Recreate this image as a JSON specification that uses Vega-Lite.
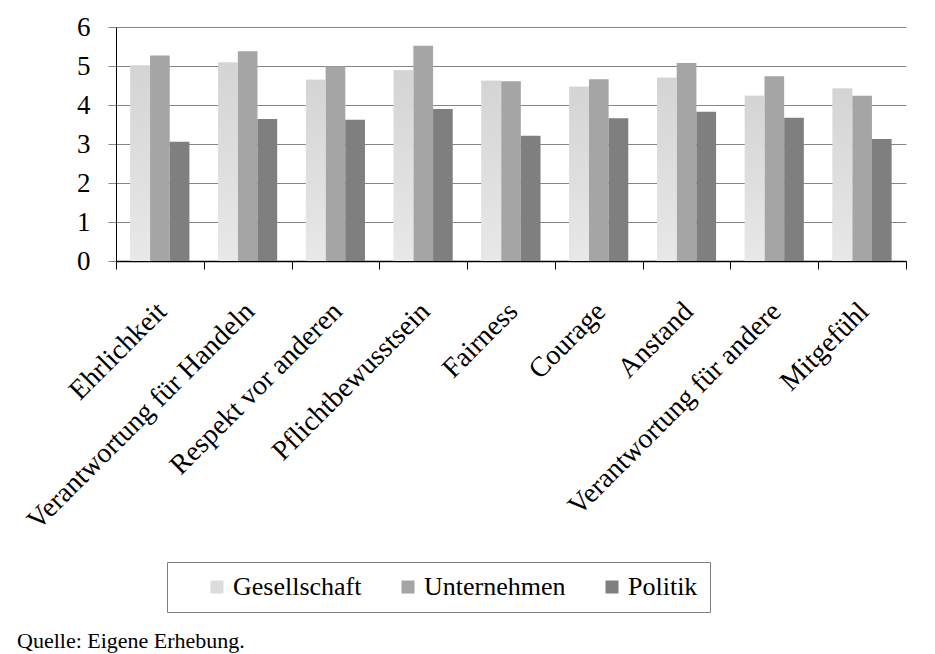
{
  "$schema": "https://vega.github.io/schema/vega-lite/v6.json",
  "width": 790,
  "height": 234,
  "autosize": {"type": "none"},
  "padding": {"left": 116, "top": 27, "right": 29, "bottom": 393},
  "background": "white",
  "config": {
    "font": "Liberation Serif",
    "view": {"stroke": null},
    "style": {"guide-label": {"font": "Liberation Serif"}, "guide-title": {"font": "Liberation Serif"}, "group-title": {"font": "Liberation Serif"}}
  },
  "title": {
    "text": "Quelle: Eigene Erhebung.",
    "orient": "bottom",
    "anchor": "start",
    "frame": "group",
    "fontSize": 22,
    "fontWeight": "normal",
    "font": "Liberation Serif",
    "color": "black",
    "dx": -99,
    "offset": 18
  },
  "data": {
    "values": [
      {"Kategorie": "Ehrlichkeit", "Bereich": "Gesellschaft", "Wert": 5.01},
      {"Kategorie": "Ehrlichkeit", "Bereich": "Unternehmen", "Wert": 5.27},
      {"Kategorie": "Ehrlichkeit", "Bereich": "Politik", "Wert": 3.06},
      {"Kategorie": "Verantwortung für Handeln", "Bereich": "Gesellschaft", "Wert": 5.09},
      {"Kategorie": "Verantwortung für Handeln", "Bereich": "Unternehmen", "Wert": 5.38},
      {"Kategorie": "Verantwortung für Handeln", "Bereich": "Politik", "Wert": 3.64},
      {"Kategorie": "Respekt vor anderen", "Bereich": "Gesellschaft", "Wert": 4.65},
      {"Kategorie": "Respekt vor anderen", "Bereich": "Unternehmen", "Wert": 4.99},
      {"Kategorie": "Respekt vor anderen", "Bereich": "Politik", "Wert": 3.62},
      {"Kategorie": "Pflichtbewusstsein", "Bereich": "Gesellschaft", "Wert": 4.89},
      {"Kategorie": "Pflichtbewusstsein", "Bereich": "Unternehmen", "Wert": 5.52},
      {"Kategorie": "Pflichtbewusstsein", "Bereich": "Politik", "Wert": 3.9},
      {"Kategorie": "Fairness", "Bereich": "Gesellschaft", "Wert": 4.62},
      {"Kategorie": "Fairness", "Bereich": "Unternehmen", "Wert": 4.61},
      {"Kategorie": "Fairness", "Bereich": "Politik", "Wert": 3.21},
      {"Kategorie": "Courage", "Bereich": "Gesellschaft", "Wert": 4.47},
      {"Kategorie": "Courage", "Bereich": "Unternehmen", "Wert": 4.66},
      {"Kategorie": "Courage", "Bereich": "Politik", "Wert": 3.66},
      {"Kategorie": "Anstand", "Bereich": "Gesellschaft", "Wert": 4.7},
      {"Kategorie": "Anstand", "Bereich": "Unternehmen", "Wert": 5.08},
      {"Kategorie": "Anstand", "Bereich": "Politik", "Wert": 3.83},
      {"Kategorie": "Verantwortung für andere", "Bereich": "Gesellschaft", "Wert": 4.24},
      {"Kategorie": "Verantwortung für andere", "Bereich": "Unternehmen", "Wert": 4.74},
      {"Kategorie": "Verantwortung für andere", "Bereich": "Politik", "Wert": 3.67},
      {"Kategorie": "Mitgefühl", "Bereich": "Gesellschaft", "Wert": 4.42},
      {"Kategorie": "Mitgefühl", "Bereich": "Unternehmen", "Wert": 4.24},
      {"Kategorie": "Mitgefühl", "Bereich": "Politik", "Wert": 3.13}
    ]
  },
  "encoding": {
    "x": {
      "field": "Kategorie",
      "type": "nominal",
      "sort": ["Ehrlichkeit", "Verantwortung für Handeln", "Respekt vor anderen", "Pflichtbewusstsein", "Fairness", "Courage", "Anstand", "Verantwortung für andere", "Mitgefühl"],
      "scale": {"paddingInner": 0, "paddingOuter": 0},
      "axis": {
        "title": null,
        "labelAngle": -45,
        "labelAlign": "right",
        "labelBaseline": "middle",
        "labelFont": "Liberation Serif",
        "labelFontSize": 28,
        "labelColor": "black",
        "labelPadding": 38,
        "labelOffset": 2,
        "labelLimit": 500,
        "tickBand": "extent",
        "tickSize": 8,
        "tickColor": "black",
        "domainColor": "black",
        "domainWidth": 1.5
      }
    },
    "xOffset": {
      "field": "Bereich",
      "type": "nominal",
      "sort": ["Gesellschaft", "Unternehmen", "Politik"],
      "scale": {"domain": ["Gesellschaft", "Unternehmen", "Politik"], "paddingInner": 0, "paddingOuter": 0.73}
    },
    "y": {
      "field": "Wert",
      "type": "quantitative",
      "scale": {"domain": [0, 6], "nice": false},
      "axis": {
        "title": null,
        "values": [0, 1, 2, 3, 4, 5, 6],
        "grid": true,
        "gridColor": "#868686",
        "tickColor": "#868686",
        "tickSize": 8,
        "domainColor": "black",
        "labelFont": "Liberation Serif",
        "labelFontSize": 27,
        "labelPadding": 18,
        "labelColor": "black"
      }
    }
  },
  "layer": [
    {
      "mark": {"type": "bar"},
      "encoding": {
        "color": {
          "field": "Bereich",
          "type": "nominal",
          "sort": ["Gesellschaft", "Unternehmen", "Politik"],
          "scale": {"domain": ["Gesellschaft", "Unternehmen", "Politik"], "range": ["#dcdcdc", "#a5a5a5", "#7f7f7f"]},
          "legend": {
            "orient": "none",
            "legendX": 51,
            "legendY": 535,
            "direction": "horizontal",
            "title": null,
            "strokeColor": "#7f7f7f",
            "fillColor": "white",
            "padding": 12,
            "symbolType": "square",
            "symbolSize": 169,
            "symbolStrokeWidth": 0,
            "symbolOffset": 25,
            "labelOffset": 3,
            "labelFont": "Liberation Serif",
            "labelFontSize": 26,
            "labelColor": "black",
            "labelExpr": "datum.label == 'Politik' ? datum.label + '\u00a0\u00a0\u00a0' : datum.label",
            "columnPadding": 8
          }
        }
      }
    },
    {
      "transform": [{"filter": "datum.Bereich == 'Gesellschaft'"}],
      "mark": {
        "type": "bar",
        "fill": {
          "gradient": "linear",
          "x1": 0, "y1": 0, "x2": 0, "y2": 1,
          "stops": [{"offset": 0, "color": "#d4d4d4"}, {"offset": 1, "color": "#e8e8e8"}]
        }
      }
    }
  ]
}
